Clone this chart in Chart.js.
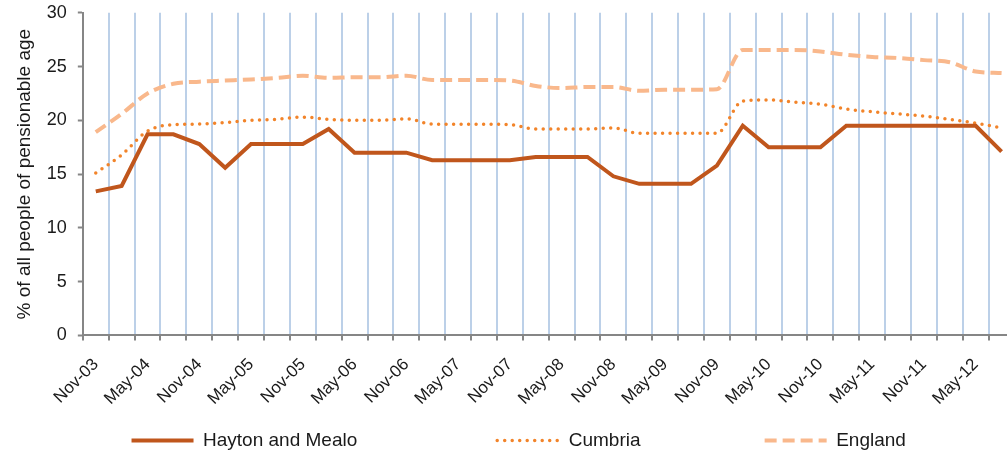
<html>

<head>
<script src="https://cdn.jsdelivr.net/npm/chart.js@4.4.0/dist/chart.umd.min.js"></script>
<style>
body{
margin:0;
overflow:hidden;
}
#box{
width:1030px;
height:469px;
margin-top:-9px;
}
</style>
</head>

<body>
<div id="box"><canvas id="pens"></canvas></div>
</body>
<script>
// quarterly figures, Nov-03 .. Aug-12
var quarters = ['Nov-03','Feb-04','May-04','Aug-04','Nov-04','Feb-05','May-05','Aug-05','Nov-05','Feb-06','May-06','Aug-06',
  'Nov-06','Feb-07','May-07','Aug-07','Nov-07','Feb-08','May-08','Aug-08','Nov-08','Feb-09','May-09','Aug-09',
  'Nov-09','Feb-10','May-10','Aug-10','Nov-10','Feb-11','May-11','Aug-11','Nov-11','Feb-12','May-12','Aug-12'];

var hayton = [13.4, 13.9, 18.7, 18.7, 17.8, 15.6, 17.8, 17.8, 17.8, 19.2, 17.0, 17.0,
  17.0, 16.3, 16.3, 16.3, 16.3, 16.6, 16.6, 16.6, 14.8, 14.1, 14.1, 14.1,
  15.8, 19.5, 17.5, 17.5, 17.5, 19.5, 19.5, 19.5, 19.5, 19.5, 19.5, 17.1];

var cumbria = [15.1, 16.8, 19.0, 19.6, 19.65, 19.8, 20.0, 20.1, 20.3, 20.1, 20.0, 20.0,
  20.15, 19.65, 19.65, 19.65, 19.6, 19.2, 19.2, 19.2, 19.3, 18.8, 18.8, 18.8,
  18.8, 21.8, 21.9, 21.7, 21.5, 21.05, 20.8, 20.6, 20.4, 20.1, 19.75, 19.3];

var england = [18.9, 20.6, 22.5, 23.4, 23.6, 23.7, 23.8, 23.95, 24.15, 23.95, 24.0, 24.0,
  24.15, 23.75, 23.75, 23.75, 23.7, 23.2, 23.0, 23.1, 23.1, 22.75, 22.85, 22.85,
  22.9, 26.55, 26.55, 26.55, 26.4, 26.1, 25.9, 25.8, 25.6, 25.4, 24.55, 24.4];

// trailing blanks to spread the legend entries like the original
var legendGap = [25, 22, 22];

var font = "'Liberation Sans', Arial, sans-serif";
var axisGrey = 'rgb(134,134,134)';

var ctx = document.getElementById('pens').getContext('2d');
var chart = new Chart(ctx, {
    type: 'line',
    data: {
        labels: quarters,
        datasets: [{
            label: 'Hayton and Mealo',
            data: hayton,
            borderColor: 'rgb(192,86,28)',
            borderWidth: 4,
            pointRadius: 0,
            tension: 0
        }, {
            label: 'Cumbria',
            data: cumbria,
            borderColor: 'rgb(242,132,42)',
            borderWidth: 3.5,
            borderDash: [0, 7.5],
            borderCapStyle: 'round',
            pointRadius: 0,
            cubicInterpolationMode: 'monotone'
        }, {
            label: 'England',
            data: england,
            borderColor: 'rgb(249,184,140)',
            borderWidth: 4,
            borderDash: [12, 6],
            pointRadius: 0,
            cubicInterpolationMode: 'monotone'
        }]
    },
    options: {
        responsive: true,
        maintainAspectRatio: false,
        animation: false,
        layout: {padding: {top: 0, left: 9, right: 0, bottom: 0}},
        scales: {
            x: {
                offset: true,
                grid: {
                    offset: true,
                    color: 'rgb(188,208,232)',
                    lineWidth: 2,
                    tickColor: axisGrey,
                    tickLength: 5,
                    tickWidth: 2
                },
                border: {color: axisGrey, width: 2},
                ticks: {
                    autoSkip: false,
                    maxRotation: 45,
                    minRotation: 45,
                    padding: 14,
                    color: '#1a1a1a',
                    font: {family: font, size: 17},
                    callback: function(v, i) {
                        return i % 2 === 0 ? this.getLabelForValue(v) : '';
                    }
                }
            },
            y: {
                min: 0,
                max: 30,
                grid: {
                    drawOnChartArea: false,
                    tickColor: axisGrey,
                    tickLength: 5,
                    tickWidth: 2
                },
                border: {color: axisGrey, width: 2},
                ticks: {
                    stepSize: 5,
                    padding: 11,
                    color: '#1a1a1a',
                    font: {family: font, size: 18}
                },
                title: {
                    display: true,
                    text: '% of all people of pensionable age',
                    color: '#1a1a1a',
                    font: {family: font, size: 19},
                    padding: {top: 4, bottom: 0}
                }
            }
        },
        plugins: {
            legend: {
                position: 'bottom',
                align: 'end',
                labels: {
                    usePointStyle: true,
                    pointStyle: 'line',
                    pointStyleWidth: 62,
                    padding: 8,
                    color: '#1a1a1a',
                    font: {family: font, size: 19},
                    generateLabels: function(c) {
                        var items = Chart.defaults.plugins.legend.labels.generateLabels(c);
                        items.forEach(function(it, i) {
                            var ds = c.data.datasets[i];
                            it.text = it.text + ' '.repeat(legendGap[i]);
                            it.lineDash = ds.borderDash || [];
                            it.lineCap = ds.borderCapStyle || 'butt';
                            it.lineWidth = ds.borderWidth;
                        });
                        return items;
                    }
                }
            },
            tooltip: {enabled: false}
        }
    }
});
</script>
</html>
